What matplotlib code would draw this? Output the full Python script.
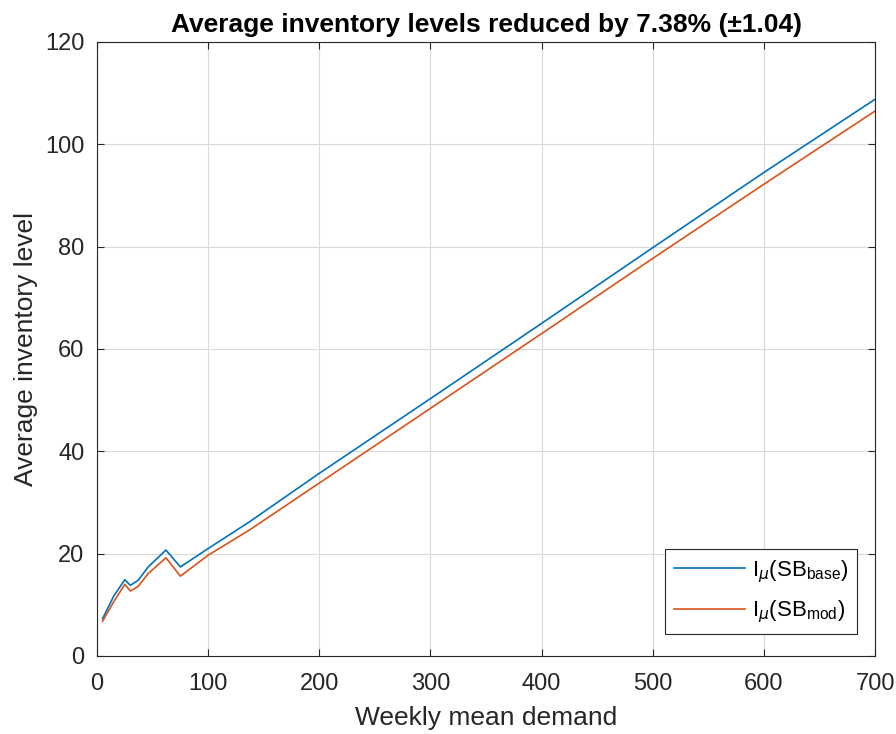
import matplotlib
matplotlib.use("Agg")
import matplotlib.pyplot as plt

demand = [5, 15, 25, 30, 37, 46, 62, 75, 100, 137, 200, 300, 400, 500, 600, 700]
inv_base = [7.3, 11.7, 14.9, 13.8, 14.8, 17.4, 20.7, 17.4, 21.0, 26.2, 35.7, 50.3, 65.0, 79.8, 94.5, 108.8]
inv_mod = [6.8, 10.6, 14.0, 12.7, 13.6, 16.1, 19.2, 15.6, 19.7, 24.6, 33.8, 48.4, 63.0, 77.7, 92.2, 106.5]
xticks = [0, 100, 200, 300, 400, 500, 600, 700]
yticks = [0, 20, 40, 60, 80, 100, 120]

plt.rcParams['font.family'] = ['Liberation Sans', 'DejaVu Sans']
plt.rcParams['mathtext.fontset'] = 'custom'
plt.rcParams['mathtext.rm'] = 'Liberation Sans'
plt.rcParams['mathtext.it'] = 'DejaVu Sans:italic'

fig = plt.figure(figsize=(8.96, 7.34), dpi=100)
ax = fig.add_axes([0.1083, 0.1063, 0.8683, 0.8365])
ax.plot(demand, inv_base, color='#0072BD', lw=1.2, label=r'I$_{\mu}$(SB$_{\mathrm{base}}$)')
ax.plot(demand, inv_mod, color='#D95319', lw=1.2, label=r'I$_{\mu}$(SB$_{\mathrm{mod}}$)')
ax.set_xlim(0, 700)
ax.set_ylim(0, 120)
ax.set_xticks(xticks)
ax.set_yticks(yticks)
ax.grid(True, color='#d9d9d9', lw=0.8)
ax.set_axisbelow(True)
for s in ax.spines.values():
    s.set_color('#262626')
    s.set_linewidth(0.8)
ax.tick_params(direction='in', top=True, right=True, labelsize=17, colors='#262626', length=5)
ax.tick_params(axis='x', pad=12)
ax.tick_params(axis='y', pad=9)
ax.set_xlabel('Weekly mean demand', fontsize=19, color='#262626', labelpad=8)
ax.set_ylabel('Average inventory level', fontsize=19, color='#262626', labelpad=5)
ax.set_title('Average inventory levels reduced by 7.38% (\u00b11.04)', fontsize=19, fontweight='bold', pad=7)
leg = ax.legend(loc='lower right', bbox_to_anchor=(0.977, 0.036), borderaxespad=0, fontsize=16,
                fancybox=False, edgecolor='#262626', framealpha=1,
                handlelength=3.2, handletextpad=0.3, labelspacing=0.6)
leg.get_frame().set_linewidth(0.8)
fig.savefig('out.png', dpi=100)
